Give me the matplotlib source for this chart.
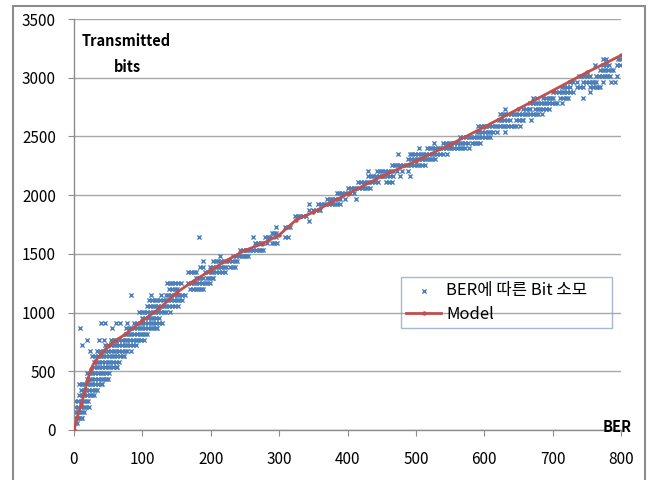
import matplotlib
matplotlib.use("Agg")
import matplotlib.pyplot as plt
from matplotlib.patches import Rectangle

plt.rcParams['font.family'] = ['Noto Sans CJK KR', 'DejaVu Sans']

# measured points: one row per bit level, x = BER values in that row
row_y = [58, 105, 152, 200, 248, 294, 342, 390, 436, 486, 534, 580, 628, 677,
         722, 770, 819, 865, 912, 958, 1005, 1056, 1104, 1150, 1202, 1252,
         1297, 1342, 1390, 1440, 1483, 1533, 1590, 1640, 1681, 1726, 1780,
         1826, 1874, 1922, 1970, 2017, 2064, 2115, 2165, 2208, 2254, 2306,
         2350, 2398, 2447, 2492, 2540, 2589, 2640, 2688, 2730, 2782, 2830,
         2875, 2918, 2966, 3017, 3066, 3108, 3156]
row_x = [
    [1, 4],
    [1, 4, 7, 10, 12],
    [2, 5, 8, 11, 14],
    [2, 6, 10, 14, 18, 22],
    [2, 6, 10, 14, 18, 20],
    [7, 11, 15, 19, 23, 27, 29],
    [10, 14, 18, 22, 26, 30, 34],
    [7, 11, 15, 19, 23, 27, 31, 35, 39, 41],
    [19, 23, 27, 31, 35, 39, 43, 47, 49],
    [19, 23, 27, 31, 35, 39, 43, 47, 51],
    [29, 33, 37, 41, 45, 49, 53, 57, 61, 63],
    [29, 33, 37, 41, 45, 49, 53, 57, 61, 66],
    [27, 31, 35, 39, 43, 47, 51, 55, 59, 63, 67, 71, 73],
    [24, 34, 38, 42, 46, 50, 54, 58, 62, 66, 70, 74, 78, 83],
    [12, 46, 50, 54, 58, 62, 66, 70, 74, 78, 82, 86, 90],
    [19, 37, 44, 54, 58, 62, 66, 70, 74, 78, 82, 86, 90, 94, 98, 102],
    [76, 80, 84, 88, 92, 96, 100, 104, 107],
    [9, 56, 76, 80, 84, 88, 92, 96, 100, 104, 108, 112, 116, 120, 122],
    [39, 46, 61, 68, 78, 88, 92, 96, 100, 104, 108, 112, 116, 120, 124, 129],
    [100, 104, 108, 112, 116, 120, 124],
    [95, 99, 103, 107, 111, 115, 119, 123, 127, 131, 135, 140],
    [107, 111, 115, 119, 123, 127, 131, 135, 139, 143, 147, 152],
    [110, 114, 118, 122, 126, 130, 134, 138, 142, 146, 150, 154, 158],
    [83, 112, 127, 134, 138, 142, 146, 150, 154, 158, 162],
    [139, 143, 147, 151, 170, 174, 178, 182, 186, 189],
    [136, 140, 144, 148, 152, 156, 167, 171, 175, 179, 183, 187, 191, 195, 199],
    [179, 182, 184, 189, 194, 198, 202, 204],
    [167, 171, 175, 179, 192, 196, 200, 204, 208, 212, 216, 221],
    [184, 189, 199, 203, 207, 211, 215, 219, 223, 228, 232, 235],
    [189, 204, 207, 211, 215, 219, 223, 227, 231, 235, 238],
    [214, 233, 237, 241, 245, 249, 252, 255],
    [243, 247, 251, 255, 257, 262, 266, 270, 274, 277],
    [265, 269, 273, 277, 282, 289, 293, 297],
    [183, 262, 279, 283, 287, 296, 309, 313],
    [289, 292, 296],
    [296, 309, 313, 316],
    [343],
    [323, 327, 331, 335, 340],
    [343, 350, 354, 358, 360],
    [343, 357, 361, 365, 369, 373, 377, 381, 385, 389],
    [370, 374, 378, 382, 386, 389, 396, 413],
    [384, 388, 392, 396, 400, 404, 409],
    [401, 405, 409, 413, 417, 421, 425, 429, 433],
    [416, 420, 424, 428, 432, 436, 440, 445, 457, 461, 465],
    [430, 434, 438, 442, 446, 450, 454, 458, 462, 467, 477, 491],
    [430, 443, 447, 451, 455, 459, 463, 467, 472, 479, 489],
    [465, 469, 473, 477, 481, 485, 489, 493, 497, 501, 505, 509, 513],
    [489, 493, 497, 501, 505, 509, 513, 517, 521, 524, 528],
    [474, 491, 495, 499, 503, 507, 511, 515, 519, 523, 527, 531, 535, 539, 545],
    [504, 516, 520, 524, 528, 532, 536, 540, 544, 548, 552, 556, 560, 564, 568, 572, 577],
    [526, 540, 544, 548, 552, 556, 560, 564, 568, 572, 576, 582, 586, 590, 594],
    [565, 569, 573, 577, 581, 585, 589, 593, 597, 601, 605, 608],
    [589, 593, 597, 601, 605, 609, 613, 618, 630],
    [591, 595, 599, 603, 607, 611, 615, 619, 623, 627, 631, 635, 639, 643, 647, 652],
    [621, 625, 629, 633, 638, 647, 651, 655, 657, 669],
    [623, 627, 631, 635, 639, 643, 647, 651, 655, 659, 663, 667, 671, 675, 679, 684],
    [630, 657, 661, 665, 667, 674, 678, 682, 686, 690, 694],
    [667, 671, 675, 679, 683, 687, 691, 695, 699, 703, 707, 713],
    [672, 677, 686, 690, 694, 698, 701, 711, 715, 719, 723, 745],
    [701, 705, 709, 713, 717, 721, 725, 730, 755],
    [713, 717, 721, 725, 735, 740, 745, 755, 759, 763, 767, 769],
    [725, 730, 735, 745, 749, 753, 757, 760, 764, 774, 786, 791],
    [738, 742, 746, 750, 755, 764, 768, 772, 776, 780, 784, 794],
    [769, 773, 777, 781, 785, 789],
    [762, 773, 778, 783, 794, 799],
    [774, 778, 796, 799],
]

model_x = [0, 5, 10, 15, 20, 25, 30, 40, 50, 60, 75, 100, 125, 150, 175, 200,
           225, 250, 275, 300, 325, 350, 375, 400, 450, 500, 550, 600, 650,
           700, 750, 800]
model_y = [0, 110, 210, 310, 430, 520, 580, 650, 715, 760, 815, 930, 1035,
           1170, 1270, 1360, 1450, 1530, 1585, 1660, 1790, 1855, 1935, 2010,
           2160, 2290, 2430, 2580, 2735, 2890, 3045, 3190]

y_ticks = [0, 500, 1000, 1500, 2000, 2500, 3000, 3500]
x_ticks = [0, 100, 200, 300, 400, 500, 600, 700, 800]

W, H = 653, 480
fig = plt.figure(figsize=(W / 100, H / 100), dpi=100)
ax = fig.add_axes([74 / W, 1 - 430 / H, 547 / W, 411 / H])

# flatten rows into points
pts_x = []
pts_y = []
for y, xs in zip(row_y, row_x):
    for x in xs:
        pts_x.append(x)
        pts_y.append(y)

ax.scatter(pts_x, pts_y, marker='x', s=9, linewidths=1.0, color='#4a7ebb',
           label='BER에 따른 Bit 소모', zorder=2)
ax.plot(model_x, model_y, color='#c0504d', lw=2.0, marker='o', ms=2.2,
        label='Model', zorder=3)

ax.set_xlim(0, 800)
ax.set_ylim(0, 3500)
ax.set_xticks(x_ticks)
ax.set_yticks(y_ticks)
ax.grid(axis='y', color='#a8a8a8', lw=1.0)
ax.set_axisbelow(True)
for side in ['top', 'right']:
    ax.spines[side].set_visible(False)
for side in ['left', 'bottom']:
    ax.spines[side].set_color('#8c8c8c')
    ax.spines[side].set_linewidth(1.0)
ax.tick_params(axis='y', direction='out', length=4, color='#8c8c8c', pad=9,
               labelsize=11)
ax.tick_params(axis='x', direction='out', length=4, color='#8c8c8c', pad=11,
               labelsize=11)

leg = ax.legend(loc='upper left', mode='expand',
                bbox_to_anchor=(327 / 547, 1 - (281 - 19) / 411, 211 / 547, 0.01),
                fontsize=12, frameon=True, fancybox=False, borderpad=0.3,
                handlelength=2.1, handletextpad=0.3, labelspacing=0.4,
                borderaxespad=0, scatterpoints=1)
leg.get_frame().set_edgecolor('#8fa8c8')
leg.get_frame().set_facecolor('none')
leg.get_frame().set_linewidth(1.0)

fig.text(82 / W, 1 - 41 / H, 'Transmitted', fontsize=10.5, fontweight='bold',
         ha='left', va='center')
fig.text(127 / W, 1 - 67 / H, 'bits', fontsize=10.5, fontweight='bold',
         ha='center', va='center')
fig.text(617 / W, 1 - 427 / H, 'BER', fontsize=10.5, fontweight='bold',
         ha='center', va='center')

# outer chart border
fig.patches.append(Rectangle((13 / W, -0.02), 632 / W, 1 - 6 / H + 0.02,
                             transform=fig.transFigure, fill=False,
                             edgecolor='#8c8c8c', lw=1.5))

fig.savefig('out.png', dpi=100)
